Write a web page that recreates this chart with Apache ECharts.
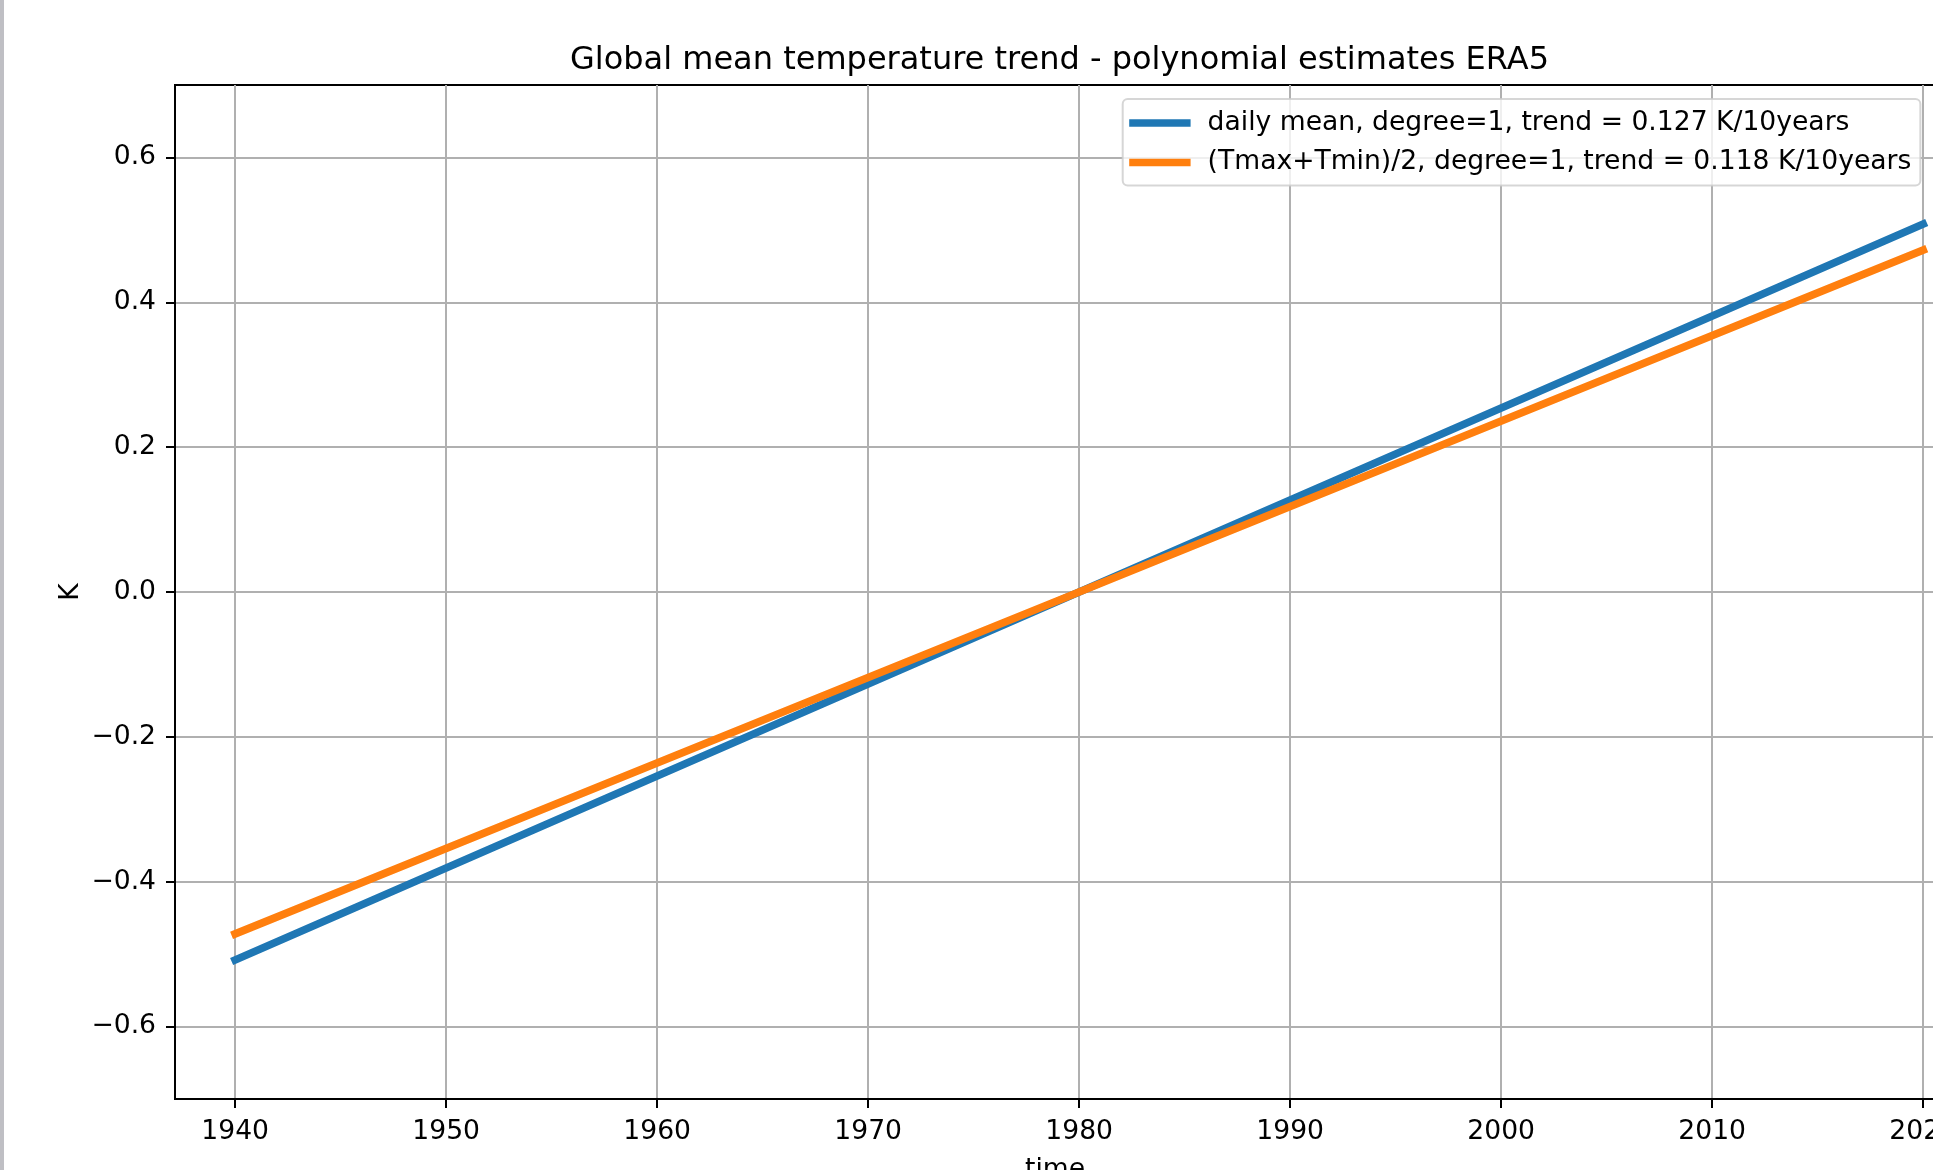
<!DOCTYPE html>
<html>
<head>
<meta charset="utf-8">
<script src="https://cdn.jsdelivr.net/npm/echarts@6/dist/echarts.min.js"></script>
<style>
html, body { margin: 0; padding: 0; background: #fff; }
#chart { width: 1933px; height: 1170px; }
</style>
</head>
<body>
<div id="chart"></div>
<script>
// ---- data ----
const years = [1940, 1980, 2020];
const dailyMean = [-0.508, 0.0, 0.508];
const tmaxTmin = [-0.472, 0.0, 0.472];
const xTicks = [1940, 1950, 1960, 1970, 1980, 1990, 2000, 2010, 2020];
const yTicks = [-0.6, -0.4, -0.2, 0.0, 0.2, 0.4, 0.6];
const seriesNames = [
  'daily mean, degree=1, trend = 0.127 K/10years',
  '(Tmax+Tmin)/2, degree=1, trend = 0.118 K/10years'
];
const titleText = 'Global mean temperature trend - polynomial estimates ERA5';
const xName = 'time';
const yName = 'K';
const xRange = [1937.15, 2020.56];
const yRange = [-0.7, 0.7];

const FONT = 'DejaVu Sans';
const FS = 26.6;
const chart = echarts.init(document.getElementById('chart'), null, { renderer: 'canvas' });

function pairs(xs, ys) { return xs.map((x, i) => [x, ys[i]]); }
function fmtY(v) {
  const r = Math.round(v * 10) / 10;
  return (r < 0 ? '\u2212' : '') + Math.abs(r).toFixed(1);
}

const option = {
  animation: false,
  backgroundColor: '#ffffff',
  textStyle: { fontFamily: FONT },
  title: {
    text: titleText,
    left: 1054.5,
    top: 40,
    textAlign: 'center',
    textStyle: { fontFamily: FONT, fontSize: 32, fontWeight: 'normal', color: '#000' }
  },
  legend: {
    orient: 'vertical',
    left: 1122.7,
    top: 99,
    padding: [8.5, 9, 7.5, 6.5],
    itemWidth: 61.4,
    itemHeight: 7.7,
    itemGap: 8.5,
    icon: 'rect',
    backgroundColor: 'rgba(255,255,255,0.8)',
    borderColor: 'rgba(204,204,204,0.8)',
    borderWidth: 2,
    borderRadius: 5,
    selectedMode: false,
    textStyle: { fontFamily: FONT, fontSize: FS, color: '#000', lineHeight: 31, padding: [0, 0, 0, 12] },
    data: seriesNames
  },
  grid: {
    left: 175, top: 85, right: -2, bottom: 71,
    show: true, borderColor: '#000', borderWidth: 2,
    containLabel: false,
    outerBoundsMode: 'none'
  },
  xAxis: {
    type: 'value',
    min: xRange[0], max: xRange[1],
    name: xName, nameLocation: 'middle', nameGap: 58, nameMoveOverlap: false,
    nameTextStyle: { fontFamily: FONT, fontSize: FS, color: '#000' },
    axisLine: { show: true, onZero: false, lineStyle: { color: '#000', width: 2 } },
    axisTick: { show: true, inside: false, length: 9, lineStyle: { color: '#000', width: 2 }, customValues: xTicks },
    axisLabel: { show: true, margin: 19.5, fontFamily: FONT, fontSize: FS, color: '#000', customValues: xTicks,
      formatter: v => String(Math.round(v)) },
    splitLine: { show: true, lineStyle: { color: '#b0b0b0', width: 2 } }
  },
  yAxis: {
    type: 'value',
    min: yRange[0], max: yRange[1],
    name: yName, nameLocation: 'middle', nameGap: 90, nameRotate: 90, nameMoveOverlap: false,
    nameTextStyle: { fontFamily: FONT, fontSize: FS, color: '#000' },
    axisLine: { show: true, onZero: false, lineStyle: { color: '#000', width: 2 } },
    axisTick: { show: true, inside: false, length: 9, lineStyle: { color: '#000', width: 2 }, customValues: yTicks },
    axisLabel: { show: true, margin: 19, fontFamily: FONT, fontSize: FS, color: '#000', customValues: yTicks,
      formatter: v => fmtY(v) },
    splitLine: { show: true, lineStyle: { color: '#b0b0b0', width: 2 } }
  },
  graphic: [{
    type: 'rect', left: 0, top: 0, z: 100,
    shape: { x: 0, y: 0, width: 4, height: 1170 },
    style: { fill: '#bfbfc4' }
  }],
  series: [
    {
      name: seriesNames[0], type: 'line', data: pairs(years, dailyMean),
      symbol: 'none', color: '#1f77b4',
      lineStyle: { color: '#1f77b4', width: 7.7, cap: 'square' }
    },
    {
      name: seriesNames[1], type: 'line', data: pairs(years, tmaxTmin),
      symbol: 'none', color: '#ff7f0e',
      lineStyle: { color: '#ff7f0e', width: 7.7, cap: 'square' }
    }
  ]
};
chart.setOption(option);
</script>
</body>
</html>
